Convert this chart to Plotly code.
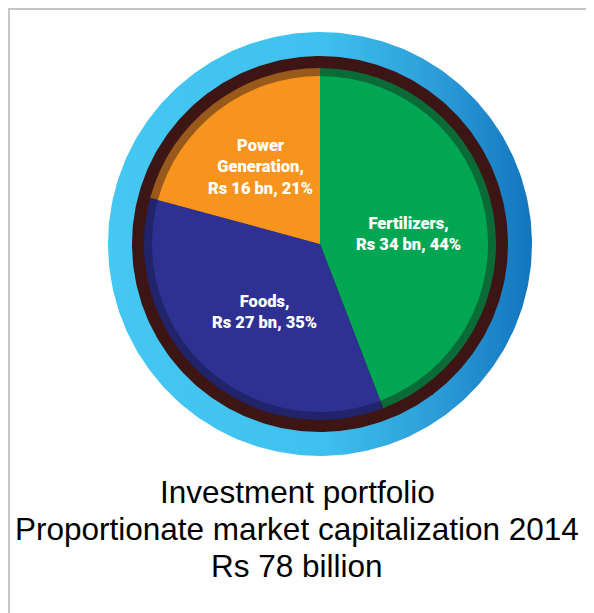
import numpy as np
import plotly.graph_objects as go

# data
segments = ["Fertilizers", "Foods", "Power<br>Generation"]
values_bn = [34, 27, 16]
shares_pct = [44, 35, 21]
title_lines = ["Investment portfolio",
               "Proportionate market capitalization 2014",
               "Rs 78 billion"]

W, H = 594, 613
OFF = 8                    # page body margin
FW, FH = W - OFF, H - OFF  # figure size so it ends at the window edge
cx, cy = 320, 244          # pie centre in window pixels
r_pie, r_inner = 176, 168  # outer shade band / bright face
r_brown, r_blue = 188, 212

main_colors = ["#00A651", "#2E3192", "#F7941D"]
band_colors = ["#0A6B37", "#21246A", "#98591A"]

label_font = dict(family="Roboto, Liberation Sans Narrow, DejaVu Sans Condensed, sans-serif",
                  size=16.5, color="white", weight=900)
# label block centres in window pixels
label_pos = [(408, 234), (264, 312), (260, 167)]


def disk(r, n=361):
    t = np.linspace(0, 2 * np.pi, n)
    return cx + r * np.cos(t), cy + r * np.sin(t)


def dom(r):
    # convert window pixel box to paper fraction of the figure
    x = [(cx - OFF - r) / FW, (cx - OFF + r) / FW]
    y = [(H - cy - r) / FH, (H - cy + r) / FH]
    return dict(x=x, y=y)


fig = go.Figure()

# blue ring with horizontal gradient
bx, by = disk(r_blue)
fig.add_trace(go.Scatter(
    x=bx, y=by, mode="lines", line=dict(width=0), fill="toself",
    fillgradient=dict(type="horizontal",
                      colorscale=[[0, "#44C7F2"], [0.5, "#3FC1EF"],
                                  [0.78, "#2B9CD8"], [1, "#1375BE"]]),
    hoverinfo="skip", showlegend=False))

# dark brown ring
rx, ry = disk(r_brown)
fig.add_trace(go.Scatter(
    x=rx, y=ry, mode="lines", line=dict(width=0), fill="toself",
    fillcolor="#3D1515", hoverinfo="skip", showlegend=False))

# shaded rim of each slice
fig.add_trace(go.Pie(
    labels=segments, values=values_bn, sort=False, direction="clockwise",
    rotation=0, marker=dict(colors=band_colors, line=dict(width=0)),
    textinfo="none", hoverinfo="skip", showlegend=False, domain=dom(r_pie)))

# bright face
fig.add_trace(go.Pie(
    labels=segments, values=values_bn, sort=False, direction="clockwise",
    rotation=0, marker=dict(colors=main_colors, line=dict(width=0)),
    textinfo="none", showlegend=False, domain=dom(r_inner)))

for name, v, p, (lx, ly) in zip(segments, values_bn, shares_pct, label_pos):
    fig.add_annotation(x=lx, y=ly, xref="x", yref="y",
                       text=f"{name},<br>Rs {v} bn, {p}%",
                       showarrow=False, font=label_font, align="center")

for txt, ty in zip(title_lines, [492, 529, 566]):
    fig.add_annotation(x=297, y=ty, xref="x", yref="y", text=txt,
                       showarrow=False, align="center",
                       font=dict(family="Liberation Sans, Arial, sans-serif",
                                 size=31.5, color="black"))

# frame lines (top and left)
fig.add_shape(type="line", x0=OFF, x1=W, y0=OFF + 1, y1=OFF + 1, xref="x", yref="y",
              line=dict(color="#C6C6C6", width=2))
fig.add_shape(type="line", x0=OFF + 1, x1=OFF + 1, y0=OFF, y1=H, xref="x", yref="y",
              line=dict(color="#C6C6C6", width=2))

fig.update_xaxes(range=[OFF, W], visible=False, fixedrange=True)
fig.update_yaxes(range=[H, OFF], visible=False, fixedrange=True)
fig.update_layout(width=FW, height=FH, autosize=False,
                  margin=dict(l=0, r=0, t=0, b=0),
                  paper_bgcolor="white", plot_bgcolor="white")

fig.write_html("out.html")
